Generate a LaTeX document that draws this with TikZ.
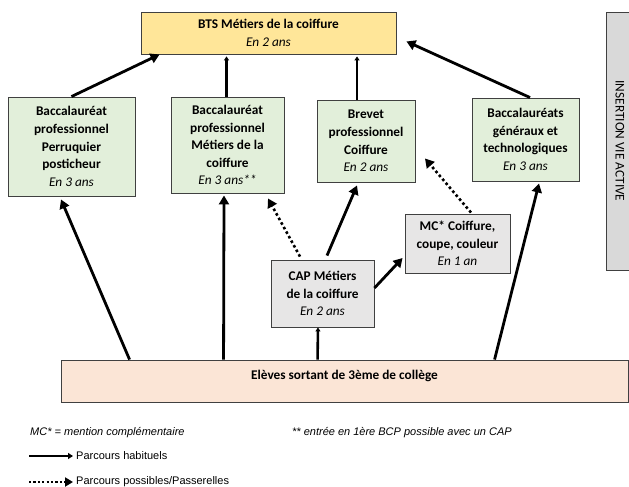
\documentclass[tikz,border=0pt]{standalone}
\usepackage{fontspec}
\setmainfont{Carlito}
\newfontfamily\arialf{Liberation Sans}
\usetikzlibrary{arrows.meta}
\definecolor{btsfill}{HTML}{FFE699}
\definecolor{greenfill}{HTML}{E2EFDA}
\definecolor{grayfill}{HTML}{E7E6E6}
\definecolor{insfill}{HTML}{D9D9D9}
\definecolor{pinkfill}{HTML}{FBE5D6}
\definecolor{edge}{HTML}{404040}
\tikzset{
  box/.style={draw=edge, line width=0.9pt, align=center, inner sep=0pt,
    font=\fontsize{13.3}{17.6}\selectfont},
  btsbox/.style={box, fill=btsfill},
  greenbox/.style={box, fill=greenfill},
  graybox/.style={box, fill=grayfill},
  bigarrow/.style={line width=2.8pt, -{Triangle[length=9pt,width=10pt]}},
  smallarrow/.style={line width=2.6pt, -{Triangle[length=4pt,width=5pt]}},
  dotarrow/.style={line width=2.6pt, dash pattern=on 2.6pt off 2.6pt, -{Triangle[length=9pt,width=10pt]}},
  legtext/.style={font=\arialf\fontsize{11}{12}\selectfont, inner sep=0pt},
}
\begin{document}
\begin{tikzpicture}[x=1pt,y=-1pt]
\useasboundingbox (0,0) rectangle (629,487);
% boxes
\node[btsbox, minimum width=255pt, minimum height=42pt] (bts) at (268.5,33)
  {\textbf{BTS Métiers de la coiffure}\\\textit{En 2 ans}};
\node[greenbox, minimum width=127pt, minimum height=99pt] (b1) at (71.5,146.5)
  {\textbf{Baccalauréat}\\\textbf{professionnel}\\\textbf{Perruquier}\\\textbf{posticheur}\\\textit{En 3 ans}};
\node[greenbox, minimum width=113pt, minimum height=96pt] (b2) at (227.5,145)
  {\textbf{Baccalauréat}\\\textbf{professionnel}\\\textbf{Métiers de la}\\\textbf{coiffure}\\\textit{En 3 ans**}};
\node[greenbox, minimum width=98pt, minimum height=82pt] (b3) at (366,141)
  {\textbf{Brevet}\\\textbf{professionnel}\\\textbf{Coiffure}\\\textit{En 2 ans}};
\node[greenbox, minimum width=107pt, minimum height=83pt] (b4) at (525.5,139.5)
  {\textbf{Baccalauréats}\\\textbf{généraux et}\\\textbf{technologiques}\\\textit{En 3 ans}};
\node[box, fill=insfill, minimum width=30pt, minimum height=258pt] (ins) at (621,141) {};
\node[rotate=-90, font=\fontsize{13.3}{16}\selectfont, inner sep=0pt] (instext) at ([xshift=-1pt]ins.center) {INSERTION VIE ACTIVE};
\node[graybox, minimum width=103pt, minimum height=67pt] (cap) at (322.5,293.5)
  {\textbf{CAP Métiers}\\\textbf{de la coiffure}\\\textit{En 2 ans}};
\node[graybox, minimum width=105pt, minimum height=59pt] (mc) at (457.5,243.5)
  {\textbf{MC* Coiffure,}\\\textbf{coupe, couleur}\\\textit{En 1 an}};
\node[box, fill=pinkfill, minimum width=567pt, minimum height=42pt, text height=9.5pt, text depth=12pt] (el) at (344.5,381)
  {\textbf{Elèves sortant de 3ème de collège}};
% arrows to BTS
\draw[bigarrow] (b1.north) -- ([xshift=19pt]bts.south west);
\draw[smallarrow] ([xshift=-1pt]b2.north) -- ([xshift=-1pt,yshift=-2pt]b2.north |- bts.south);
\draw[smallarrow] ([xshift=-9pt]b3.north) -- ([xshift=-9pt,yshift=-2pt]b3.north |- bts.south);
\draw[bigarrow] ([xshift=4.5pt]b4.north) -- ([xshift=10pt,yshift=13pt]bts.south east);
% from Eleves
\draw[bigarrow] ([xshift=69pt]el.north west) -- ([xshift=-10.5pt,yshift=-3pt]b1.south);
\draw[bigarrow] ([xshift=163pt]el.north west) -- ([xshift=-3.5pt,yshift=-2pt]b2.south);
\draw[smallarrow] ([xshift=257pt]el.north west) -- ([xshift=-4.5pt]cap.south);
\draw[bigarrow] ([xshift=434pt]el.north west) -- ([xshift=13.5pt,yshift=-2pt]b4.south);
% from CAP
\draw[bigarrow] ([xshift=4.5pt,yshift=4pt]cap.north) -- ([xshift=-9pt,yshift=-3pt]b3.south);
\draw[bigarrow] ([yshift=5.5pt]cap.east) -- ([xshift=-2pt,yshift=-14.5pt]mc.west);
\draw[dotarrow] ([xshift=-22.5pt,yshift=3pt]cap.north) -- ([xshift=40.5pt,yshift=-5pt]b2.south);
\draw[dotarrow] ([xshift=13.5pt,yshift=1pt]mc.north) -- ([xshift=59pt,yshift=24pt]b3.south);
% legend
\node[legtext, anchor=west] (l1) at (30,433) {\textit{MC* = mention complémentaire}};
\node[legtext, anchor=west] (l2) at (292,433) {\textit{** entrée en 1ère BCP possible avec un CAP}};
\node[legtext, anchor=west] (l3) at (76,456) {Parcours habituels};
\node[legtext, anchor=west] (l4) at (76,482) {Parcours possibles/Passerelles};
\coordinate (s1) at (29,456);
\coordinate (s2) at (29,482);
\draw[line width=2.2pt, shorten >=3pt, -{Triangle[length=5pt,width=6pt]}] (s1) -- (l3.west);
\draw[line width=2.2pt, shorten >=3pt, dash pattern=on 2.2pt off 2.2pt, -{Triangle[length=8pt,width=9pt]}] (s2) -- (l4.west);
\end{tikzpicture}
\end{document}
